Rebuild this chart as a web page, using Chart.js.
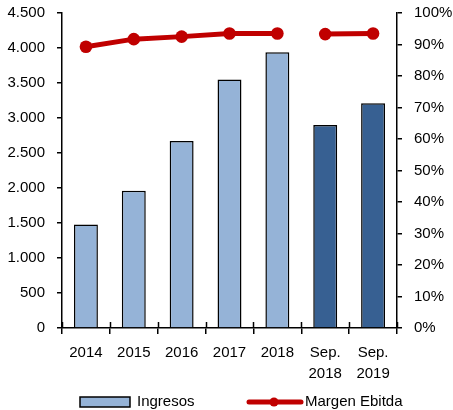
<!DOCTYPE html>
<html>
<head>
<meta charset="utf-8">
<script src="https://cdn.jsdelivr.net/npm/chart.js@4.4.1/dist/chart.umd.min.js"></script>
<style>
  html, body { margin: 0; padding: 0; background: #fff; }
  #wrap { width: 453px; height: 410px; }
</style>
</head>
<body>
<div id="wrap"><canvas id="chart" width="453" height="410"></canvas></div>
<script>
// Data
const categories = ['2014', '2015', '2016', '2017', '2018', ['Sep.', '2018'], ['Sep.', '2019']];
const periodType = ['year', 'year', 'year', 'year', 'year', 'sep', 'sep'];
const ingresos = [1480, 1960, 2670, 3550, 3940, 2900, 3210];
const margenEbitda = [89.3, 91.7, 92.5, 93.5, 93.5, 93.3, 93.5];
const leftTicks = [0, 500, 1000, 1500, 2000, 2500, 3000, 3500, 4000, 4500];
const rightTicks = [0, 10, 20, 30, 40, 50, 60, 70, 80, 90, 100];

const FONT = "'Liberation Sans', Arial, sans-serif";
const LIGHT = '#95B3D7';
const DARK = '#376092';
const RED = '#C00000';

const barColors = periodType.map(t => t === 'year' ? LIGHT : DARK);

function fmtThousands(v) {
    return String(v).replace(/\B(?=(\d{3})+(?!\d))/g, '.');
}

// tick marks on the x axis cross the axis line, draw the inner half
const crossTicks = {
    id: 'crossTicks',
    afterDraw(chart) {
        const x = chart.scales.x;
        const ctx = chart.ctx;
        const n = categories.length;
        ctx.save();
        ctx.strokeStyle = '#000';
        ctx.lineWidth = 1.5;
        for (let i = 0; i <= n; i++) {
            const px = Math.round(x.left + i * x.width / n) + 0.5;
            ctx.beginPath();
            ctx.moveTo(px, x.top - 6);
            ctx.lineTo(px, x.top);
            ctx.stroke();
        }
        ctx.restore();
    }
};

// legend like the original (box + line with dot)
const customLegend = {
    id: 'customLegend',
    afterDraw(chart) {
        const ctx = chart.ctx;
        const y = 402;
        ctx.save();
        ctx.font = '15px ' + FONT;
        ctx.textBaseline = 'middle';

        ctx.fillStyle = LIGHT;
        ctx.fillRect(80, y - 5, 50, 10);
        ctx.strokeStyle = '#000';
        ctx.lineWidth = 1.5;
        ctx.strokeRect(80, y - 5, 50, 10);
        ctx.fillStyle = '#000';
        ctx.fillText(chart.data.datasets[1].label, 137, y);

        ctx.strokeStyle = RED;
        ctx.lineWidth = 5;
        ctx.lineCap = 'round';
        ctx.beginPath();
        ctx.moveTo(249, y);
        ctx.lineTo(301, y);
        ctx.stroke();
        ctx.fillStyle = RED;
        ctx.beginPath();
        ctx.arc(274, y, 4.5, 0, Math.PI * 2);
        ctx.fill();
        ctx.fillStyle = '#000';
        ctx.fillText(chart.data.datasets[0].label, 305, y);
        ctx.restore();
    }
};

Chart.defaults.font.family = FONT;
Chart.defaults.font.size = 15;
Chart.defaults.color = '#000';

new Chart(document.getElementById('chart').getContext('2d'), {
    type: 'bar',
    data: {
        labels: categories,
        datasets: [
            {
                type: 'line',
                label: 'Margen Ebitda',
                data: margenEbitda,
                yAxisID: 'y1',
                borderColor: RED,
                backgroundColor: RED,
                borderWidth: 5,
                pointRadius: 6.3,
                pointHoverRadius: 6.3,
                pointBorderWidth: 0,
                pointBackgroundColor: RED,
                tension: 0,
                order: 0,
                segment: {
                    borderColor: c => periodType[c.p0DataIndex] !== periodType[c.p1DataIndex] ? 'rgba(0,0,0,0)' : RED
                }
            },
            {
                type: 'bar',
                label: 'Ingresos',
                data: ingresos,
                yAxisID: 'y',
                backgroundColor: barColors,
                borderColor: '#000',
                borderWidth: 1.5,
                barPercentage: 0.5,
                categoryPercentage: 1,
                order: 1
            }
        ]
    },
    options: {
        responsive: false,
        animation: false,
        layout: { padding: { top: 13, bottom: 30, left: 0, right: 0 } },
        plugins: {
            legend: { display: false },
            tooltip: { enabled: false }
        },
        scales: {
            x: {
                offset: true,
                grid: {
                    offset: true,
                    drawOnChartArea: false,
                    drawTicks: true,
                    tickLength: 6,
                    color: '#000',
                    lineWidth: 1.5
                },
                border: { color: '#000', width: 1.5 },
                ticks: {
                    padding: 8,
                    maxRotation: 0,
                    autoSkip: false,
                    font: { size: 15, lineHeight: 1.4 }
                },
                afterFit(s) { s.height = 52; }
            },
            y: {
                position: 'left',
                min: leftTicks[0],
                max: leftTicks[leftTicks.length - 1],
                afterBuildTicks(s) { s.ticks = leftTicks.map(v => ({ value: v })); },
                grid: {
                    drawOnChartArea: false,
                    tickLength: 5,
                    color: '#000',
                    lineWidth: 1.5
                },
                border: { color: '#000', width: 1.5 },
                ticks: {
                    padding: 12,
                    callback: v => fmtThousands(v)
                },
                afterFit(s) { s.width = 62; s.paddingTop = 0; s.paddingBottom = 0; }
            },
            y1: {
                position: 'right',
                min: rightTicks[0],
                max: rightTicks[rightTicks.length - 1],
                afterBuildTicks(s) { s.ticks = rightTicks.map(v => ({ value: v })); },
                grid: {
                    drawOnChartArea: false,
                    tickLength: 5,
                    color: '#000',
                    lineWidth: 1.5
                },
                border: { color: '#000', width: 1.5 },
                ticks: {
                    padding: 12,
                    callback: v => v + '%'
                },
                afterFit(s) { s.width = 56; s.paddingTop = 0; s.paddingBottom = 0; }
            }
        }
    },
    plugins: [crossTicks, customLegend]
});
</script>
</body>
</html>
